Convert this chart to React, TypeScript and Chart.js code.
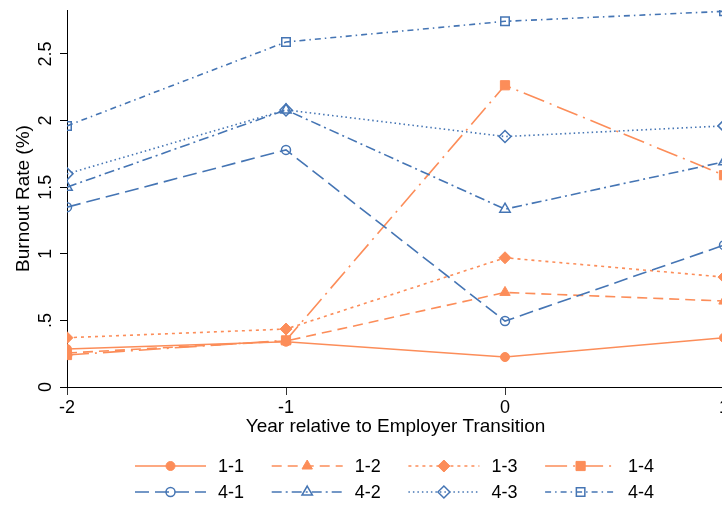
import React, { useEffect, useRef } from 'react';
import { Chart, registerables } from 'chart.js';

Chart.register(...registerables);

// ---------- data ----------
const xValues = [-2, -1, 0, 1];
const seriesLabels = ['1-1', '1-2', '1-3', '1-4', '4-1', '4-2', '4-3', '4-4'];
const s11 = [0.285, 0.34, 0.225, 0.37];
const s12 = [0.255, 0.345, 0.71, 0.645];
const s13 = [0.37, 0.435, 0.97, 0.825];
const s14 = [0.24, 0.35, 2.265, 1.59];
const s41 = [1.35, 1.78, 0.495, 1.065];
const s42 = [1.5, 2.08, 1.335, 1.69];
const s43 = [1.6, 2.08, 1.88, 1.96];
const s44 = [1.96, 2.59, 2.745, 2.82];
const seriesValues = [s11, s12, s13, s14, s41, s42, s43, s44];
const yTickValues = [0, 0.5, 1, 1.5, 2, 2.5];
const yTickLabels = ['0', '.5', '1', '1.5', '2', '2.5'];
const xTickLabels = ['-2', '-1', '0', '1'];

// ---------- styles ----------
const FONT = '"Liberation Sans", Arial, Helvetica, sans-serif';
const ORANGE = '#FC8D59';
const BLUE = '#4575B4';
const TRANSPARENT = 'rgba(0,0,0,0)';

type Style = { color: string; dash: number[]; point: string; radius: number; filled: boolean };
const styles: Style[] = [
  { color: ORANGE, dash: [], point: 'circle', radius: 4.5, filled: true },
  { color: ORANGE, dash: [10, 6], point: 'triangle', radius: 6, filled: true },
  { color: ORANGE, dash: [3, 4], point: 'rectRot', radius: 6, filled: true },
  { color: ORANGE, dash: [22, 6, 2, 6], point: 'rect', radius: 6.5, filled: true },
  { color: BLUE, dash: [14, 6], point: 'circle', radius: 4.5, filled: false },
  { color: BLUE, dash: [10, 4, 2, 4], point: 'triangle', radius: 6, filled: false },
  { color: BLUE, dash: [1.5, 3], point: 'rectRot', radius: 6, filled: false },
  { color: BLUE, dash: [6, 4, 1.5, 4], point: 'rect', radius: 6, filled: false },
];

function drawMarker(ctx: CanvasRenderingContext2D, st: Style, x: number, y: number) {
  const r = st.radius;
  ctx.save();
  ctx.setLineDash([]);
  ctx.beginPath();
  if (st.point === 'circle') {
    ctx.arc(x, y, r, 0, Math.PI * 2);
  } else if (st.point === 'triangle') {
    let a = 0;
    ctx.moveTo(x + Math.sin(a) * r, y - Math.cos(a) * r);
    a += (2 * Math.PI) / 3;
    ctx.lineTo(x + Math.sin(a) * r, y - Math.cos(a) * r);
    a += (2 * Math.PI) / 3;
    ctx.lineTo(x + Math.sin(a) * r, y - Math.cos(a) * r);
    ctx.closePath();
  } else if (st.point === 'rect') {
    const s = r * Math.SQRT1_2;
    ctx.rect(x - s, y - s, 2 * s, 2 * s);
  } else {
    ctx.moveTo(x - r, y);
    ctx.lineTo(x, y - r);
    ctx.lineTo(x + r, y);
    ctx.lineTo(x, y + r);
    ctx.closePath();
  }
  if (st.filled) {
    ctx.fillStyle = st.color;
    ctx.fill();
  }
  ctx.strokeStyle = st.color;
  ctx.lineWidth = st.filled ? 1 : 1.5;
  ctx.stroke();
  ctx.restore();
}

const yLabelPlugin = {
  id: 'yRotatedLabels',
  afterDraw(chart: any) {
    const ys = chart.scales.y;
    const ctx: CanvasRenderingContext2D = chart.ctx;
    ctx.save();
    ctx.font = `18px ${FONT}`;
    ctx.fillStyle = '#000';
    ctx.textAlign = 'center';
    ctx.textBaseline = 'alphabetic';
    yTickValues.forEach((v, i) => {
      const py = ys.getPixelForValue(v);
      ctx.save();
      ctx.translate(chart.chartArea.left - 16, py);
      ctx.rotate(-Math.PI / 2);
      ctx.fillText(yTickLabels[i], 0, 0);
      ctx.restore();
    });
    ctx.restore();
  },
};

const legendPlugin = {
  id: 'stataLegend',
  afterDraw(chart: any) {
    const ctx: CanvasRenderingContext2D = chart.ctx;
    const left = 135;
    const colW = 136.7;
    const rows = [466, 492];
    const lineLen = 71;
    ctx.save();
    seriesLabels.forEach((lab, i) => {
      const st = styles[i];
      const col = i % 4;
      const row = Math.floor(i / 4);
      const x0 = left + col * colW;
      const y = rows[row];
      ctx.save();
      ctx.strokeStyle = st.color;
      ctx.lineWidth = 1.6;
      ctx.setLineDash(st.dash);
      ctx.beginPath();
      ctx.moveTo(x0, y);
      ctx.lineTo(x0 + lineLen, y);
      ctx.stroke();
      ctx.restore();
      drawMarker(ctx, st, x0 + lineLen / 2, y);
      ctx.font = `18px ${FONT}`;
      ctx.fillStyle = '#000';
      ctx.textAlign = 'left';
      ctx.textBaseline = 'middle';
      ctx.fillText(lab, x0 + lineLen + 12, y + 1);
    });
    ctx.restore();
  },
};

export default function App() {
  const ref = useRef<HTMLCanvasElement>(null);
  useEffect(() => {
    if (!ref.current) return;
    const datasets = seriesLabels.map((lab, i) => {
      const st = styles[i];
      return {
        label: lab,
        data: xValues.map((x, j) => ({ x, y: seriesValues[i][j] })),
        borderColor: st.color,
        borderWidth: 1.6,
        borderDash: st.dash,
        pointStyle: st.point,
        pointRadius: st.radius,
        pointHoverRadius: st.radius,
        pointBorderColor: st.color,
        pointBackgroundColor: st.filled ? st.color : TRANSPARENT,
        pointBorderWidth: st.filled ? 1 : 1.5,
        backgroundColor: st.filled ? st.color : TRANSPARENT,
        fill: false,
        tension: 0,
        order: 8 - i,
      };
    });
    const chart = new Chart(ref.current, {
      type: 'line',
      data: { datasets } as any,
      plugins: [yLabelPlugin, legendPlugin],
      options: {
        responsive: false,
        animation: false,
        devicePixelRatio: 1,
        layout: { padding: { left: 0, right: 36, top: 10, bottom: 0 } },
        plugins: { legend: { display: false }, tooltip: { enabled: false } },
        scales: {
          x: {
            type: 'linear',
            min: -2,
            max: 1,
            afterFit: (s: any) => {
              s.height = 121;
            },
            ticks: {
              stepSize: 1,
              color: '#000',
              padding: 2,
              font: { family: FONT, size: 18 },
              callback: (v: any) => {
                const idx = xValues.indexOf(Number(v));
                return idx >= 0 ? xTickLabels[idx] : '';
              },
            },
            grid: { drawOnChartArea: false, drawTicks: true, tickLength: 8, color: '#333', lineWidth: 1 },
            border: { display: true, color: '#000', width: 1 },
            title: {
              display: true,
              text: 'Year relative to Employer Transition',
              color: '#000',
              font: { family: FONT, size: 19 },
              padding: { top: 0, bottom: 70 },
            },
          },
          y: {
            type: 'linear',
            min: 0,
            max: 2.83,
            afterFit: (s: any) => {
              s.width = 67;
            },
            ticks: { display: false, stepSize: 0.5, includeBounds: false },
            grid: { drawOnChartArea: false, drawTicks: true, tickLength: 7, color: '#000', lineWidth: 1 },
            border: { display: true, color: '#000', width: 1 },
            title: {
              display: true,
              text: 'Burnout Rate (%)',
              color: '#000',
              font: { family: FONT, size: 19 },
              padding: { top: 12.5, bottom: 0 },
            },
          },
        },
      } as any,
    });
    return () => chart.destroy();
  }, []);
  return (
    <div
      style={{
        position: 'fixed',
        left: 0,
        top: 0,
        width: 722,
        height: 508,
        overflow: 'hidden',
        background: '#fff',
      }}
    >
      <canvas ref={ref} width={760} height={508} style={{ display: 'block', width: 760, height: 508 }} />
    </div>
  );
}
